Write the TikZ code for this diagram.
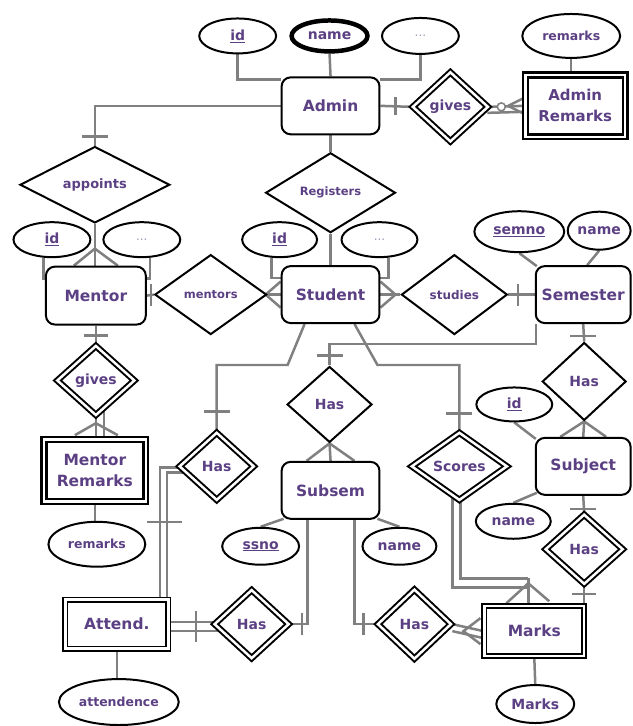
\documentclass[tikz,border=0pt]{standalone}
\usepackage{fontspec}
\setmainfont{DejaVu Sans}
\usetikzlibrary{shapes.geometric,calc}
\definecolor{lbl}{RGB}{92,64,132}
\definecolor{wire}{RGB}{128,128,128}
\pgfdeclarelayer{paper}
\pgfdeclarelayer{wires}
\pgfsetlayers{paper,wires,main}

\tikzset{
  ent/.style={rectangle, draw=black, line width=2pt, rounded corners=9pt, fill=white,
    text=lbl, inner sep=0pt, align=center, font=\fontsize{15.5}{21}\selectfont\bfseries},
  went/.style={rectangle, draw=black, double=white, double distance=2.5pt, line width=1.8pt,
    fill=white, text=lbl, inner sep=0pt, align=center, font=\fontsize{15.5}{21}\selectfont\bfseries},
  attr/.style={ellipse, draw=black, line width=2pt, fill=white, text=lbl, inner sep=0pt,
    font=\fontsize{14}{16}\selectfont\bfseries},
  rel/.style={diamond, draw=black, line width=2pt, fill=white, text=lbl, inner sep=0pt,
    font=\fontsize{14}{16}\selectfont\bfseries},
  wrel/.style={rel, double=white, double distance=2.5pt, line width=2pt},
  conn/.style={draw=wire, line width=2.5pt},
  dots/.style={text=lbl!55, font=\fontsize{12}{12}\selectfont},
}

\begin{document}
\begin{tikzpicture}[x=1pt,y=-1pt]
\begin{pgfonlayer}{paper}
\path[use as bounding box, fill=white] (0,0) rectangle (633,726);
\end{pgfonlayer}

% ---------- entities ----------
\node[ent, minimum width=98pt, minimum height=57pt] (admin) at (331,106) {Admin};
\node[went, line width=2.4pt, minimum width=100pt, minimum height=62pt, font=\fontsize{15}{21}\selectfont\bfseries] (arem) at (576,106) {Admin\\Remarks};
\node[ent, minimum width=100pt, minimum height=58pt] (mentor) at (96,296) {Mentor};
\node[ent, minimum width=98pt, minimum height=57pt] (student) at (331,295) {Student};
\node[ent, minimum width=95pt, minimum height=57pt] (semester) at (584,295) {Semester};
\node[ent, minimum width=95pt, minimum height=57pt] (subject) at (584,467) {Subject};
\node[ent, minimum width=98pt, minimum height=57pt] (subsem) at (331,491) {Subsem};
\node[went, line width=2.4pt, minimum width=102pt, minimum height=62pt] (mrem) at (95,471) {Mentor\\Remarks};
\node[went, minimum width=103pt, minimum height=49pt] (attend) at (117,625) {Attend.};
\node[went, minimum width=100pt, minimum height=50pt] (marks) at (535,632) {Marks};

% ---------- attributes ----------
\node[attr, minimum width=77pt, minimum height=35pt] (aid) at (238,36) {\underline{id}};
\node[attr, line width=4.5pt, minimum width=76pt, minimum height=31pt] (aname) at (330,36) {name};
\node[attr, dots, minimum width=77pt, minimum height=36pt] (adots) at (421,36) {...};
\node[attr, minimum width=98pt, minimum height=44pt, font=\fontsize{12.5}{14}\selectfont\bfseries] (aremattr) at (572,36) {remarks};
\node[attr, minimum width=77pt, minimum height=35pt] (mid) at (52,240) {\underline{id}};
\node[attr, dots, minimum width=77pt, minimum height=35pt] (mdots) at (142,240) {...};
\node[attr, minimum width=75pt, minimum height=35pt] (sid) at (280,240) {\underline{id}};
\node[attr, dots, minimum width=76pt, minimum height=35pt] (sdots) at (380,240) {...};
\node[attr, minimum width=90pt, minimum height=41pt] (semno) at (520,232) {\underline{semno}};
\node[attr, minimum width=63pt, minimum height=38pt] (semname) at (600,231) {name};
\node[attr, minimum width=76pt, minimum height=34pt] (subid) at (515,405) {\underline{id}};
\node[attr, minimum width=75pt, minimum height=35pt] (subname) at (514,522) {name};
\node[attr, minimum width=77pt, minimum height=37pt] (ssno) at (261,547) {\underline{ssno}};
\node[attr, minimum width=74pt, minimum height=37pt] (ssname) at (400,547) {name};
\node[attr, minimum width=97pt, minimum height=45pt, font=\fontsize{12.5}{14}\selectfont\bfseries] (mremattr) at (97,545) {remarks};
\node[attr, minimum width=120pt, minimum height=46pt, font=\fontsize{12.5}{14}\selectfont\bfseries] (attendence) at (119,703) {attendence};
\node[attr, minimum width=78pt, minimum height=38pt] (marksattr) at (536,705) {Marks};

% ---------- relationships ----------
\node[wrel, minimum width=76pt, minimum height=70pt] (agives) at (451,107) {gives};
\node[rel, minimum width=130pt, minimum height=80pt, font=\fontsize{11.5}{13}\selectfont\bfseries] (registers) at (331,193) {Registers};
\node[rel, minimum width=150pt, minimum height=76pt, font=\fontsize{13}{15}\selectfont\bfseries] (appoints) at (95,185) {appoints};
\node[rel, minimum width=112pt, minimum height=80pt, font=\fontsize{11.5}{13}\selectfont\bfseries] (mentors) at (211,295) {mentors};
\node[rel, minimum width=106pt, minimum height=80pt, font=\fontsize{12}{14}\selectfont\bfseries] (studies) at (455,295) {studies};
\node[rel, minimum width=84pt, minimum height=78pt] (hassem) at (585,382) {Has};
\node[wrel, minimum width=78pt, minimum height=70pt] (hasmk) at (585,550) {Has};
\node[wrel, minimum width=96pt, minimum height=68pt] (scores) at (460,467) {Scores};
\node[wrel, minimum width=74pt, minimum height=70pt] (hasmarks) at (415,625) {Has};
\node[rel, minimum width=85pt, minimum height=76pt] (hassub) at (330,405) {Has};
\node[wrel, minimum width=75pt, minimum height=69pt] (hasatt) at (252,625) {Has};
\node[wrel, minimum width=75pt, minimum height=68pt] (hasstatt) at (217,467) {Has};
\node[wrel, minimum width=78pt, minimum height=70pt] (givesm) at (96,381) {gives};

% ---------- connectors ----------
\begin{pgfonlayer}{wires}
% Admin and its attributes
\draw[conn] (aid.south) |- ($(admin.north west)+(0,3)$);
\draw[conn] (aname.south) -- (admin.north);
\draw[conn] (adots.south) |- ($(admin.north east)+(0,3)$);
\draw[conn] (aremattr.south) -- (aremattr.south |- arem.north);

% Admin gives Admin Remarks
\draw[conn] (admin.east) -- (agives.west);
\draw[conn] ($(admin.east)+(15,-9)$) -- ($(admin.east)+(15,9)$);
\draw[conn] (agives.east) -- (arem.west);
\draw[conn] ($(agives.east)+(-2,6)$) -- ($(arem.west)+(0,6)$);
\draw[conn] ($(arem.west)+(-16,0)$) -- ($(arem.west)+(0,-8)$)
            ($(arem.west)+(-16,0)$) -- ($(arem.west)+(0,8)$);
\draw[conn, line width=1.5pt, fill=white] ($(agives.east)+(12,0)$) circle (4);

% Admin registers Student
\draw[conn] (admin.south) -- (registers.north);
\draw[conn] (registers.south) -- (student.north);

% Admin appoints Mentor
\draw[conn] (admin.west) -| (appoints.north);
\draw[conn] ($(appoints.north)+(-13,-9)$) -- ($(appoints.north)+(13,-9)$);
\coordinate (mtop) at (appoints.south |- mentor.north);
\draw[conn] (appoints.south) -- (mtop);
\draw[conn] ($(mtop)+(-21,0)$) -- ($(mtop)+(0,-17)$) -- ($(mtop)+(23,0)$);

% Mentor attributes
\draw[conn] (mid.245) |- ($(mentor.north west)+(0,13)$);
\draw[conn] (mdots.295) |- ($(mentor.north east)+(0,13)$);

% Mentor mentors Student
\draw[conn] (mentor.east) -- (mentors.west);
\draw[conn] ($(mentors.west)+(-3,-11)$) -- ($(mentors.west)+(-3,11)$);
\draw[conn] (mentors.east) -- (student.west);
\draw[conn] ($(student.west)+(0,-13)$) -- ($(student.west)+(-15,0)$) -- ($(student.west)+(0,13)$);

% Student attributes
\draw[conn] (sid.246) |- ($(student.north west)+(0,13)$);
\draw[conn] (sdots.297) |- ($(student.north east)+(0,13)$);

% Student studies Semester
\draw[conn] (student.east) -- (studies.west);
\draw[conn] ($(student.east)+(0,-13)$) -- ($(student.east)+(15,0)$) -- ($(student.east)+(0,13)$);
\draw[conn] (studies.east) -- (semester.west);
\draw[conn] ($(semester.west)+(-17,-11)$) -- ($(semester.west)+(-17,11)$);

% Semester attributes
\draw[conn] (semno.south) -- ($(semester.north west)+(2,1)$);
\draw[conn] (semname.south) -- ($(semester.north)+(4,0)$);

% Semester has Subject
\draw[conn] (semester.south) -- (hassem.north);
\draw[conn] ($(semester.south)+(-13,12)$) -- ($(semester.south)+(13,12)$);
\draw[conn] (hassem.south) -- (subject.north);
\draw[conn] ($(subject.north)+(-23,0)$) -- (hassem.south) -- ($(subject.north)+(23,0)$);

% Subject attributes
\draw[conn] (subid.south) -- ($(subject.north west)+(1,2)$);
\draw[conn] (subname.north) -- ($(subject.south west)+(2,-3)$);

% Subject has Marks
\draw[conn] (subject.south) -- (hasmk.north);
\draw[conn] ($(subject.south)+(-13,13)$) -- ($(subject.south)+(13,13)$);
\draw[conn] (hasmk.south) -- (hasmk.south |- marks.north);
\draw[conn] ($(hasmk.south)+(-12,9)$) -- ($(hasmk.south)+(12,9)$);

% Student scores Marks
\draw[conn] ($(student.south)+(24,0)$) -- ++(23,41) -| (scores.north);
\draw[conn] ($(scores.north)+(-13,-18)$) -- ($(scores.north)+(13,-18)$);
\coordinate (mkapex) at ($(marks.north)+(-6,-22)$);
\draw[conn] ($(scores.south)+(-7,-7)$) |- ($(mkapex)+(0,4)$);
\draw[conn] ($(scores.south)+(1,0)$) |- ($(mkapex)+(0,-5)$);
\draw[conn] ($(mkapex)+(0,-5)$) -- ($(mkapex)+(0,20)$);
\draw[conn] ($(mkapex)+(-22,20)$) -- (mkapex) -- ($(mkapex)+(21,18)$);

% Marks attribute
\draw[conn] (marks.south) -- (marksattr.north);

% Subsem has Marks
\draw[conn] (hasmarks.east) -- (marks.west);
\draw[conn] ($(hasmarks.east)+(0,7)$) -- ($(marks.west)+(0,7)$);
\draw[conn] ($(marks.west)+(-3,-13)$) -- ($(marks.west)+(-20,0)$) -- ($(marks.west)+(-3,13)$);
\draw[conn] ($(subsem.south)+(24,0)$) |- (hasmarks.west);
\draw[conn] ($(hasmarks.west)+(-13,-11)$) -- ($(hasmarks.west)+(-13,11)$);

% Semester has Subsem
\draw[conn] ($(semester.south west)+(1,0)$) -- ++(0,20) -| (hassub.north);
\draw[conn] ($(hassub.north)+(-13,-10)$) -- ($(hassub.north)+(13,-10)$);
\draw[conn] (hassub.south) -- (subsem.north);
\draw[conn] ($(subsem.north)+(-24,0)$) -- (hassub.south) -- ($(subsem.north)+(24,0)$);

% Subsem attributes
\draw[conn] (ssno.north) -- ($(subsem.south west)+(3,-1)$);
\draw[conn] (ssname.north) -- ($(subsem.south east)+(-3,-1)$);

% Subsem has Attendance
\draw[conn] ($(subsem.south)+(-23,0)$) |- (hasatt.east);
\draw[conn] ($(hasatt.east)+(12,-11)$) -- ($(hasatt.east)+(12,11)$);
\draw[conn] ($(attend.east)+(0,-2)$) -- ($(hasatt.west)+(6,-2)$);
\draw[conn] ($(attend.east)+(0,7)$) -- ($(hasatt.west)+(6,7)$);
\draw[conn] ($(attend.east)+(27,-13)$) -- ($(attend.east)+(27,18)$);

% Student has Attendance
\draw[conn] ($(student.south)+(-26,0)$) -- ++(-17,41) -| (hasstatt.north);
\draw[conn] ($(hasstatt.north)+(-13,-20)$) -- ($(hasstatt.north)+(13,-20)$);
\draw[conn] ($(attend.north)+(43,0)$) |- ($(hasstatt.west)+(3,1)$);
\draw[conn] ($(attend.north)+(50,0)$) |- ($(hasstatt.west)+(5,6)$);
\draw[conn] ($(attend.north)+(30,-77)$) -- ($(attend.north)+(65,-77)$);
\draw[conn] (attend.south) -- (attend.south |- attendence.north);

% Mentor gives Mentor Remarks
\draw[conn] (mentor.south) -- (givesm.north);
\draw[conn] ($(mentor.south)+(-12,10)$) -- ($(mentor.south)+(12,10)$);
\draw[conn] (givesm.south) -- (givesm.south |- mrem.north);
\coordinate (mrtop) at ($(givesm.south |- mrem.north)+(0,-3)$);
\draw[conn] ($(mrtop)+(-21,0)$) -- ($(mrtop)+(0,-12)$) -- ($(mrtop)+(22,0)$);
\draw[conn] ($(givesm.south)+(8,-7)$) -- ($(givesm.south)+(8,20)$);
\draw[conn] (mrem.south) -- (mrem.south |- mremattr.north);
\end{pgfonlayer}
\end{tikzpicture}
\end{document}
